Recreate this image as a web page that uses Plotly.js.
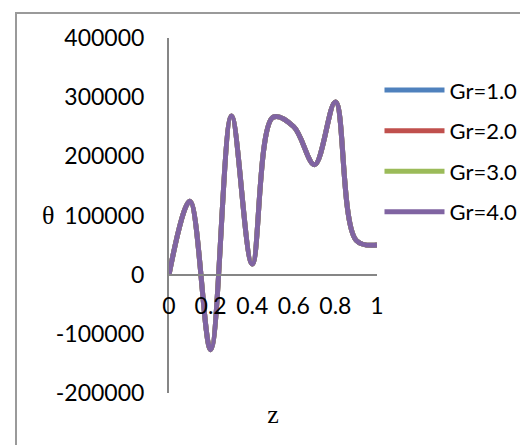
<!DOCTYPE html>
<html>
<head>
<meta charset="utf-8">
<script src="https://cdn.plot.ly/plotly-3.0.1.min.js"></script>
<style>
html,body{margin:0;padding:0;background:#fff;}
#chart{position:absolute;left:0;top:0;width:520px;height:445px;}
#frame{position:absolute;left:15px;top:12px;width:700px;height:700px;border:2px solid #9a9a9a;pointer-events:none;}
</style>
</head>
<body>
<div id="chart"></div>
<div id="frame"></div>
<script>
var z = [0, 0.1, 0.2, 0.3, 0.4, 0.5, 0.6, 0.7, 0.8, 0.9, 1.0];
var thetaGr1 = [0, 124000, -127000, 268000, 18000, 266000, 250000, 186000, 292000, 58000, 50000];
var thetaGr2 = [0, 124000, -127000, 268000, 18000, 266000, 250000, 186000, 292000, 58000, 50000];
var thetaGr3 = [0, 124000, -127000, 268000, 18000, 266000, 250000, 186000, 292000, 58000, 50000];
var thetaGr4 = [0, 124000, -127000, 268000, 18000, 266000, 250000, 186000, 292000, 58000, 50000];
var seriesNames = ['Gr=1.0', 'Gr=2.0', 'Gr=3.0', 'Gr=4.0'];
var seriesColors = ['#4F81BD', '#C0504D', '#9BBB59', '#8064A2'];
var seriesValues = [thetaGr1, thetaGr2, thetaGr3, thetaGr4];
var yTicks = [-200000, -100000, 0, 100000, 200000, 300000, 400000];
var xTicks = [0, 0.2, 0.4, 0.6, 0.8, 1];

var traces = seriesValues.map(function(v, i){
  return {
    x: z, y: v, type: 'scatter', mode: 'lines', name: seriesNames[i],
    legendgroup: 'g' + i,
    line: {color: seriesColors[i], width: 5, shape: 'spline', smoothing: 1}
  };
});

var tickFont = {family: 'Lato, "Liberation Sans", sans-serif', size: 23, color: '#000'};
var legendFont = {family: 'Lato, "Liberation Sans", sans-serif', size: 22, color: '#000'};

var layout = {
  width: 520, height: 445,
  margin: {l: 169, r: 143, t: 38, b: 52, autoexpand: false},
  paper_bgcolor: 'rgba(0,0,0,0)', plot_bgcolor: 'rgba(0,0,0,0)',
  showlegend: true,
  legend: {x: 1.012, xanchor: 'left', y: 0.912, yanchor: 'top', font: legendFont,
           itemwidth: 60, traceorder: 'grouped', tracegroupgap: 9, bgcolor: 'rgba(0,0,0,0)'},
  xaxis: {range: [0, 1], showticklabels: false, showline: false, showgrid: false, zeroline: false,
          ticks: '', title: {text: 'z', font: {family: '"Liberation Serif", serif', size: 26, color: '#000'}, standoff: 11}},
  xaxis2: {overlaying: 'x', anchor: 'free', position: 1/3, side: 'bottom', range: [0, 1],
           tickvals: xTicks, ticktext: xTicks.map(String), showline: true, linecolor: '#868686', linewidth: 2,
           showgrid: false, zeroline: false, ticks: '', tickfont: tickFont, ticklabelstandoff: 11},
  yaxis: {range: [-200000, 400000], tickvals: yTicks, ticktext: yTicks.map(String),
          showline: true, linecolor: '#868686', linewidth: 2, showgrid: false, zeroline: false,
          ticks: '', tickfont: tickFont, ticklabelstandoff: 18},
  annotations: [{text: 'θ', xref: 'paper', yref: 'paper', x: -0.62, y: 0.5, showarrow: false,
                 font: {family: '"Liberation Serif", serif', size: 26, color: '#000'}}]
};

// empty trace that activates the overlaid zero-line x axis
traces.push({x: [0, 1], y: [null, null], xaxis: 'x2', yaxis: 'y', showlegend: false, hoverinfo: 'skip', mode: 'lines'});

Plotly.newPlot('chart', traces, layout, {displayModeBar: false, staticPlot: true});
</script>
</body>
</html>
